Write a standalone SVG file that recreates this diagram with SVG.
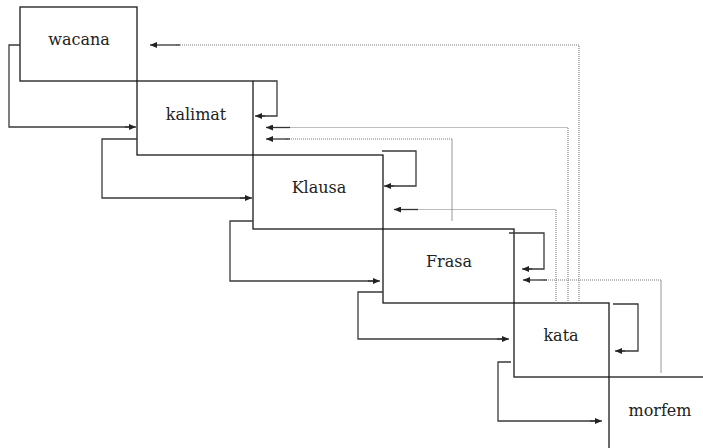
<svg xmlns="http://www.w3.org/2000/svg" width="703" height="448" viewBox="0 0 703 448">
<defs>
<marker id="ah" viewBox="0 0 7 6" refX="7" refY="3" markerWidth="7" markerHeight="6" markerUnits="userSpaceOnUse" orient="auto">
<path d="M0,0 L7,3 L0,6 z" fill="#222"/>
</marker>
<style>
.box{fill:none;stroke:#1a1a1a;stroke-width:1.3}
.lbl{font-family:"DejaVu Serif","Liberation Serif",serif;font-size:16px;fill:#222;text-anchor:middle}
.loop{fill:none;stroke:#3a3a3a;stroke-width:1.3}
.arr{fill:none;stroke:#333;stroke-width:1.3;marker-end:url(#ah)}
.dot{fill:none;stroke:#7a7a7a;stroke-width:1.1;stroke-dasharray:1 1}
.gray{fill:none;stroke:#a8a8a8;stroke-width:1.2}
</style>
</defs>
<rect width="703" height="448" fill="#fff"/>

<g id="wacana">
<rect class="box" x="20" y="7" width="117" height="74"/>
<text class="lbl" x="79" y="45">wacana</text>
</g>
<g id="kalimat">
<rect class="box" x="137" y="81" width="116" height="74"/>
<text class="lbl" x="196" y="120">kalimat</text>
</g>
<g id="klausa">
<rect class="box" x="253" y="155" width="130" height="74"/>
<text class="lbl" x="319" y="193">Klausa</text>
</g>
<g id="frasa">
<rect class="box" x="383" y="229" width="131" height="74"/>
<text class="lbl" x="449" y="267">Frasa</text>
</g>
<g id="kata">
<rect class="box" x="514" y="303" width="95" height="74"/>
<text class="lbl" x="561" y="341">kata</text>
</g>
<g id="morfem">
<rect class="box" x="609" y="377" width="110" height="90"/>
<text class="lbl" x="660" y="416">morfem</text>
</g>

<g id="connectors">
<!-- left descending loops -->
<path class="loop" d="M20,45 H9 V127 H130"/>
<path class="arr" d="M125,127 H136"/>
<path class="loop" d="M137,139 H102 V198 H245"/>
<path class="arr" d="M240,198 H252"/>
<path class="loop" d="M253,221 H230 V281 H373"/>
<path class="arr" d="M368,281 H380"/>
<path class="loop" d="M383,292 H358 V339 H502"/>
<path class="arr" d="M497,339 H509"/>
<path class="loop" d="M511,362 H498 V421 H595"/>
<path class="arr" d="M590,421 H602"/>

<!-- self loops -->
<path class="loop" d="M253,81 H277 V116 H262"/>
<path class="arr" d="M265,116 H255"/>
<path class="loop" d="M382,151 H416 V186 H391"/>
<path class="arr" d="M394,186 H384"/>
<path class="loop" d="M509,233 H544 V269 H529"/>
<path class="arr" d="M532,269 H522"/>
<path class="loop" d="M613,304 H638 V351 H622"/>
<path class="arr" d="M625,351 H615"/>

<!-- dotted feedback lines -->
<path class="dot" d="M579,303 V45 H175"/>
<path class="arr" d="M180,45 H150"/>
<path class="dot" d="M568,303 V127.5 H285"/>
<path class="arr" d="M290,127.5 H266"/>
<path class="dot" d="M452,139 H285"/>
<path class="gray" d="M452,139 V221"/>
<path class="arr" d="M290,139 H266"/>
<path class="dot" d="M556,303 V209.5 H413"/>
<path class="arr" d="M418,209.5 H394"/>
<path class="dot" d="M661,280 H542"/>
<path class="gray" d="M661,280 V373"/>
<path class="arr" d="M547,280 H523"/>
</g>
</svg>
